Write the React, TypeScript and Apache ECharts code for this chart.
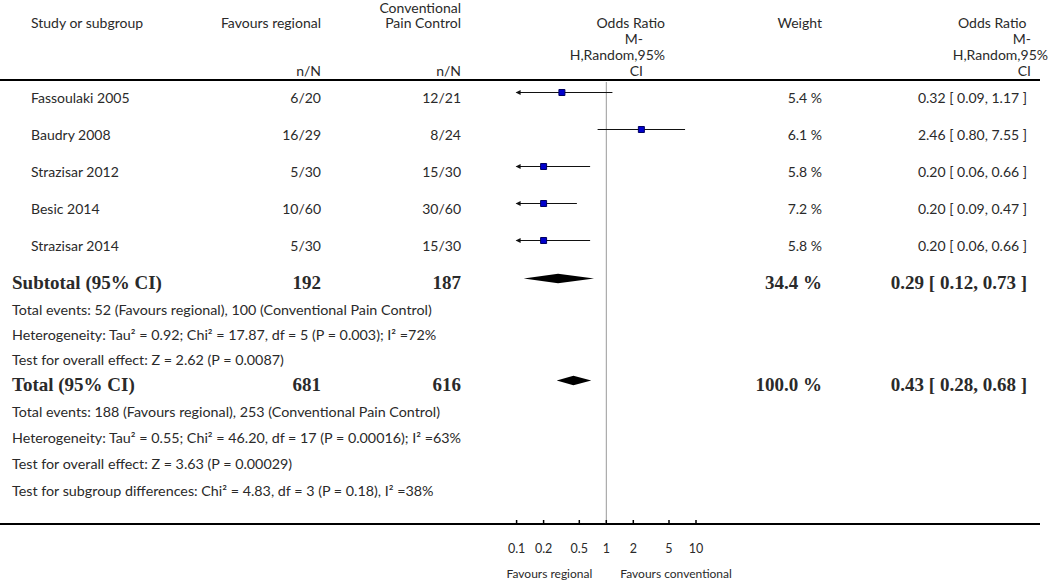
import React, { useEffect, useRef } from "react";
import * as echarts from "echarts";

// ---------- data ----------
const studies = ["Fassoulaki 2005", "Baudry 2008", "Strazisar 2012", "Besic 2014", "Strazisar 2014"];
const eventsRegional = ["6/20", "16/29", "5/30", "10/60", "5/30"];
const eventsControl = ["12/21", "8/24", "15/30", "30/60", "15/30"];
const weights = [5.4, 6.1, 5.8, 7.2, 5.8];
const oddsRatio = [0.32, 2.46, 0.2, 0.2, 0.2];
const ciLower = [0.09, 0.8, 0.06, 0.09, 0.06];
const ciUpper = [1.17, 7.55, 0.66, 0.47, 0.66];

const pooledLabels = ["Subtotal (95% CI)", "Total (95% CI)"];
const pooledRegional = [192, 681];
const pooledControl = [187, 616];
const pooledWeight = [34.4, 100.0];
const pooledOR = [0.29, 0.43];
const pooledLower = [0.12, 0.28];
const pooledUpper = [0.73, 0.68];

const subtotalNotes = [
  "Total events: 52 (Favours regional), 100 (Conventional Pain Control)",
  "Heterogeneity: Tau² = 0.92; Chi² = 17.87, df = 5 (P = 0.003); I² =72%",
  "Test for overall effect: Z = 2.62 (P = 0.0087)",
];
const totalNotes = [
  "Total events: 188 (Favours regional), 253 (Conventional Pain Control)",
  "Heterogeneity: Tau² = 0.55; Chi² = 46.20, df = 17 (P = 0.00016); I² =63%",
  "Test for overall effect: Z = 3.63 (P = 0.00029)",
  "Test for subgroup differences: Chi² = 4.83, df = 3 (P = 0.18), I² =38%",
];

const tickValues = [0.1, 0.2, 0.5, 1, 2, 5, 10];
const tickLabels = ["0.1", "0.2", "0.5", "1", "2", "5", "10"];
const directionLabels = ["Favours regional", "Favours conventional"];

// ---------- layout ----------
const AXIS_MIN = 0.1;
const AXIS_MAX = 10;
const PLOT_TOP = 82;
const PLOT_BOTTOM = 524;
const COL = { label: 12, study: 31, nReg: 321, nCtl: 461, weight: 822, orText: 1027 };
const studyY = studies.map((_, i) => 97 + 37 * i);
const pooledY = [282, 384];
const subtotalNotesY = [309, 334, 359];
const totalNotesY = [411, 437, 463, 490];

const SANS = "Lato, 'Open Sans', 'DejaVu Sans', sans-serif";
const SERIF = "'Liberation Serif', 'DejaVu Serif', serif";
const TEXT = "#2a2a2a";

const fmt2 = (v: number) => v.toFixed(2);
const orText = (o: number, l: number, h: number) => `${fmt2(o)} [ ${fmt2(l)}, ${fmt2(h)} ]`;

function txt(text: string, x: number, y: number, align = "left", size = 14, bold = false) {
  return {
    type: "text",
    x,
    y,
    silent: true,
    style: {
      text,
      fill: TEXT,
      fontSize: size,
      fontFamily: bold ? SERIF : SANS,
      fontWeight: bold ? "bold" : "normal",
      align,
      textAlign: align,
      verticalAlign: "middle",
      textVerticalAlign: "middle",
    },
  };
}

export default function App() {
  const ref = useRef<HTMLDivElement>(null);

  useEffect(() => {
    document.body.style.margin = "0";
    const chart = echarts.init(ref.current!, null, { renderer: "svg" });

    const graphics: any[] = [];
    // header
    graphics.push(txt("Study or subgroup", COL.study, 22));
    graphics.push(txt("Favours regional", COL.nReg, 22, "right"));
    graphics.push(txt("Conventional", COL.nCtl, 7, "right"));
    graphics.push(txt("Pain Control", COL.nCtl, 22, "right"));
    graphics.push(txt("n/N", COL.nReg, 70, "right"));
    graphics.push(txt("n/N", COL.nCtl, 70, "right"));
    graphics.push(txt("Odds Ratio", 665, 22, "right"));
    graphics.push(txt("M-", 643, 38, "right"));
    graphics.push(txt("H,Random,95%", 665, 54, "right"));
    graphics.push(txt("CI", 643, 70, "right"));
    graphics.push(txt("Weight", COL.weight, 22, "right"));
    graphics.push(txt("Odds Ratio", 958, 22, "left"));
    graphics.push(txt("M-", 1031, 38, "right"));
    graphics.push(txt("H,Random,95%", 1048, 54, "right"));
    graphics.push(txt("CI", 1031, 70, "right"));
    // rules
    graphics.push({ type: "line", silent: true, shape: { x1: 0, y1: 80, x2: 1040, y2: 80 }, style: { stroke: "#000", lineWidth: 2 } });
    graphics.push({ type: "line", silent: true, shape: { x1: 0, y1: PLOT_BOTTOM, x2: 1040, y2: PLOT_BOTTOM }, style: { stroke: "#000", lineWidth: 2 } });

    // study rows
    studies.forEach((s, i) => {
      const y = studyY[i];
      graphics.push(txt(s, COL.study, y));
      graphics.push(txt(eventsRegional[i], COL.nReg, y, "right"));
      graphics.push(txt(eventsControl[i], COL.nCtl, y, "right"));
      graphics.push(txt(`${weights[i].toFixed(1)} %`, COL.weight, y, "right"));
      graphics.push(txt(orText(oddsRatio[i], ciLower[i], ciUpper[i]), COL.orText, y, "right"));
    });
    // pooled rows
    pooledLabels.forEach((lab, i) => {
      const y = pooledY[i];
      graphics.push(txt(lab, COL.label, y, "left", 19, true));
      graphics.push(txt(String(pooledRegional[i]), COL.nReg, y, "right", 19, true));
      graphics.push(txt(String(pooledControl[i]), COL.nCtl, y, "right", 19, true));
      graphics.push(txt(`${pooledWeight[i].toFixed(1)} %`, COL.weight, y, "right", 19, true));
      graphics.push(txt(orText(pooledOR[i], pooledLower[i], pooledUpper[i]), COL.orText, y, "right", 19, true));
    });
    subtotalNotes.forEach((n, i) => graphics.push(txt(n, COL.label, subtotalNotesY[i], "left", 14.3)));
    totalNotes.forEach((n, i) => graphics.push(txt(n, COL.label, totalNotesY[i], "left", 14.3)));

    const option: any = {
      animation: false,
      backgroundColor: "#fff",
      grid: { left: 516.6, width: 179.4, top: PLOT_TOP, bottom: 581 - PLOT_BOTTOM },
      xAxis: { type: "log", logBase: 10, min: AXIS_MIN, max: AXIS_MAX, show: false },
      yAxis: { type: "value", min: PLOT_TOP, max: PLOT_BOTTOM, inverse: true, show: false },
      graphic: graphics,
      series: [
        {
          name: "null line",
          type: "custom",
          clip: false,
          silent: true,
          data: [[1, PLOT_TOP, PLOT_BOTTOM]],
          encode: { x: 0, y: [1, 2] },
          renderItem: (params: any, api: any) => {
            const a = api.coord([api.value(0), api.value(1)]);
            const b = api.coord([api.value(0), api.value(2)]);
            return { type: "line", shape: { x1: a[0], y1: a[1], x2: b[0], y2: b[1] }, style: { stroke: "#999", lineWidth: 1 } };
          },
        },
        {
          name: "studies",
          type: "custom",
          clip: false,
          silent: true,
          data: studies.map((_, i) => [oddsRatio[i], ciLower[i], ciUpper[i], studyY[i] - 4.5]),
          encode: { x: [0, 1, 2], y: 3 },
          renderItem: (params: any, api: any) => {
            const o = api.value(0), lo = api.value(1), hi = api.value(2), y = api.value(3);
            const pL = api.coord([Math.max(lo, AXIS_MIN), y]);
            const pH = api.coord([Math.min(hi, AXIS_MAX), y]);
            const pO = api.coord([o, y]);
            const children: any[] = [
              { type: "line", shape: { x1: pL[0], y1: pL[1], x2: pH[0], y2: pH[1] }, style: { stroke: "#111", lineWidth: 1.2 } },
            ];
            if (lo < AXIS_MIN)
              children.push({ type: "polygon", shape: { points: [[pL[0] - 1, pL[1]], [pL[0] + 4, pL[1] - 2.5], [pL[0] + 4, pL[1] + 2.5]] }, style: { fill: "#111" } });
            if (hi > AXIS_MAX)
              children.push({ type: "polygon", shape: { points: [[pH[0] + 1, pH[1]], [pH[0] - 4, pH[1] - 2.5], [pH[0] - 4, pH[1] + 2.5]] }, style: { fill: "#111" } });
            children.push({ type: "rect", shape: { x: pO[0] - 3, y: pO[1] - 3, width: 6, height: 6 }, style: { fill: "#0000cc", stroke: "#000060", lineWidth: 1 } });
            return { type: "group", children };
          },
        },
        {
          name: "pooled",
          type: "custom",
          clip: false,
          silent: true,
          data: pooledLabels.map((_, i) => [pooledOR[i], pooledLower[i], pooledUpper[i], pooledY[i] - 3.5]),
          encode: { x: [0, 1, 2], y: 3 },
          renderItem: (params: any, api: any) => {
            const o = api.value(0), lo = api.value(1), hi = api.value(2), y = api.value(3);
            const pL = api.coord([lo, y]);
            const pH = api.coord([hi, y]);
            const pO = api.coord([o, y]);
            const h = 4.8;
            return {
              type: "polygon",
              shape: { points: [[pL[0], pL[1]], [pO[0], pO[1] - h], [pH[0], pH[1]], [pO[0], pO[1] + h]] },
              style: { fill: "#000" },
            };
          },
        },
        {
          name: "ticks",
          type: "custom",
          clip: false,
          silent: true,
          data: tickValues.map((v) => [v, PLOT_BOTTOM]),
          encode: { x: 0, y: 1 },
          renderItem: (params: any, api: any) => {
            const p = api.coord([api.value(0), api.value(1)]);
            return {
              type: "group",
              children: [
                { type: "line", shape: { x1: p[0], y1: p[1] - 4, x2: p[0], y2: p[1] }, style: { stroke: "#000", lineWidth: 1.5 } },
                {
                  type: "text",
                  x: p[0],
                  y: p[1] + 24,
                  style: { text: tickLabels[params.dataIndex], fill: TEXT, fontSize: 12.5, fontFamily: SANS, align: "center", verticalAlign: "middle" },
                },
              ],
            };
          },
        },
        {
          name: "direction",
          type: "custom",
          clip: false,
          silent: true,
          data: [[1, 573]],
          encode: { x: 0, y: 1 },
          renderItem: (params: any, api: any) => {
            const p = api.coord([api.value(0), api.value(1)]);
            return {
              type: "group",
              children: [
                { type: "text", x: p[0] - 14, y: p[1], style: { text: directionLabels[0], fill: TEXT, fontSize: 12, fontFamily: SANS, align: "right", verticalAlign: "middle" } },
                { type: "text", x: p[0] + 14, y: p[1], style: { text: directionLabels[1], fill: TEXT, fontSize: 12, fontFamily: SANS, align: "left", verticalAlign: "middle" } },
              ],
            };
          },
        },
      ],
    };

    chart.setOption(option);
    return () => chart.dispose();
  }, []);

  return <div ref={ref} style={{ width: 1050, height: 581 }} />;
}
